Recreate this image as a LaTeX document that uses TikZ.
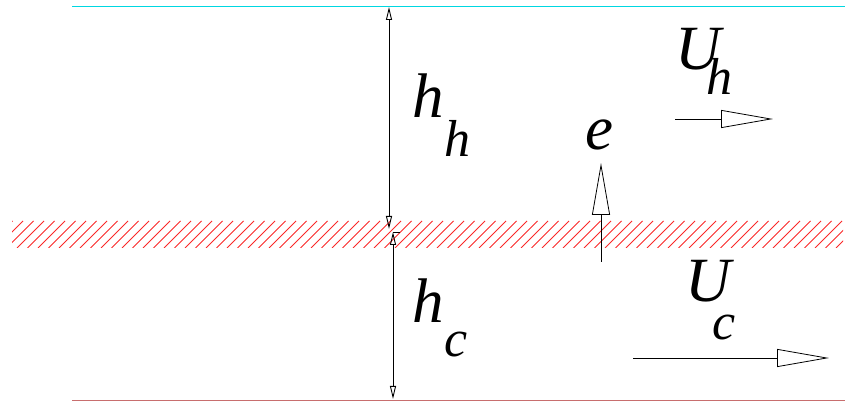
\documentclass[tikz,border=0pt]{standalone}
\usepackage{fontspec}
\setmainfont{Liberation Serif}
\usetikzlibrary{arrows.meta}
\definecolor{topline}{RGB}{0,215,225}
\definecolor{wallred}{RGB}{200,110,110}
\definecolor{hatchred}{RGB}{250,40,40}
\tikzset{
  dimarrow/.style = {{Triangle[open,length=13pt,width=6pt]}-{Triangle[open,length=13pt,width=6pt]}, line width=0.9pt},
  flowarrow/.style = {-{Triangle[open,length=52pt,width=18pt]}, line width=0.8pt},
  hatch/.style = {hatchred, line width=0.9pt},
  lbl/.style = {inner sep=0pt, anchor=base west, font=\fontsize{63}{63}\selectfont\itshape}
}
\newcommand{\subfont}{\fontsize{52}{52}\selectfont}

\begin{document}
\begin{tikzpicture}[x=1pt, y=-1pt]
\useasboundingbox (0,0) rectangle (863,403);

% walls
\coordinate (tl) at (72,7);
\coordinate (tr) at (845,7);
\coordinate (bl) at (72,400);
\coordinate (br) at (845,400);
\draw[topline, line width=1pt] (tl) -- (tr);
\draw[wallred, line width=0.9pt] (bl) -- (br);

% interface band
\begin{scope}
  \clip (12,221) rectangle (843,248);
  \foreach \k in {0,...,82}
    \draw[hatch] (-14.5+\k*10.5,248) -- ++(27,-27);
\end{scope}

% thicknesses
\coordinate (hhtop) at (389,7);
\coordinate (hhbot) at (389,229);
\coordinate (hctop) at (393,232);
\coordinate (hcbot) at (393,399);
\draw[dimarrow] (hhtop) -- (hhbot);
\draw[dimarrow] (hctop) -- (hcbot);
\draw[line width=0.8pt] (hctop) -- ++(7,0);

\node[lbl] (hh) at (412,118) {h\kern1pt\raisebox{-39pt}{\subfont h}};
\node[lbl] (hc) at (412,323) {h\kern1pt\raisebox{-34pt}{\subfont c}};

% velocities
\coordinate (ehead) at (601,163);
\coordinate (etail) at (601,262);
\draw[flowarrow] (etail) -- (ehead);
\node[lbl] (e) at (585,150) {e};

\coordinate (uhtail) at (675,119);
\coordinate (uhhead) at (773,119);
\draw[flowarrow] (uhtail) -- (uhhead);
\node[lbl] (uh) at (675,70) {U\kern-14pt\raisebox{-25pt}{\subfont h}};

\coordinate (uctail) at (633,358);
\coordinate (uchead) at (829,358);
\draw[flowarrow] (uctail) -- (uchead);
\node[lbl] (uc) at (685,302) {U\kern-18pt\raisebox{-38pt}{\subfont c}};

\end{tikzpicture}
\end{document}
